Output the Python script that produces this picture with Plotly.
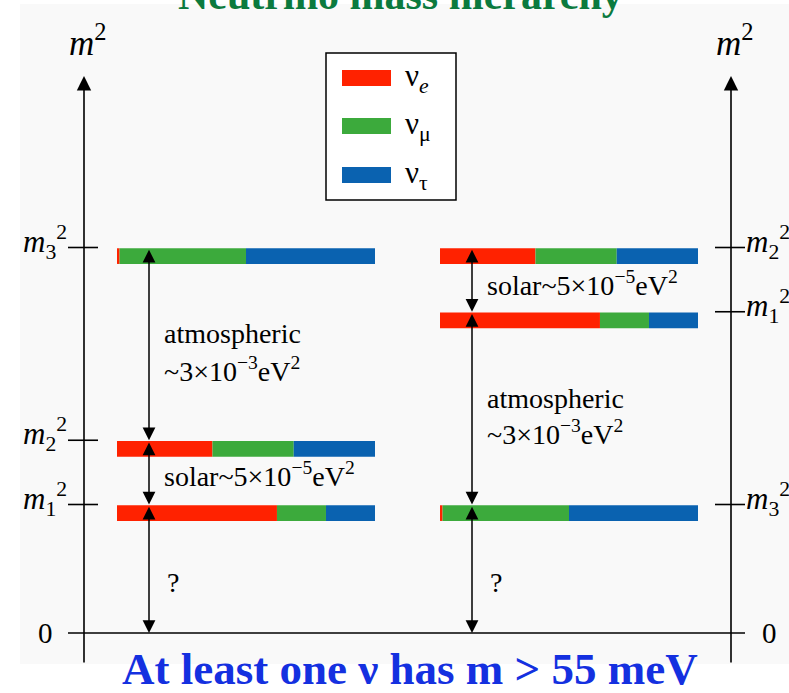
import plotly.graph_objects as go

# ---------------- data ----------------
mass_states = ["1", "2", "3"]
normal_m2 = [1.0, 1.5, 3.0]      # schematic m^2 levels, normal ordering
inverted_m2 = [2.5, 3.0, 1.0]    # schematic m^2 levels, inverted ordering
frac_e = [0.62, 0.37, 0.01]      # nu_e content of nu_1, nu_2, nu_3
frac_mu = [0.19, 0.315, 0.49]    # nu_mu content
frac_tau = [0.19, 0.315, 0.50]   # nu_tau content
flavor_labels = ["ν<sub><i>e</i></sub>", "ν<sub>μ</sub>", "ν<sub>τ</sub>"]
flavor_colors = ["#ff2200", "#3caa3c", "#0a62b0"]

# ---------------- layout helpers ----------------
W, H = 789, 693
PX_PER_UNIT = 128.5
Y0_PX = 633.0


def lv(ypx):
    return (Y0_PX - ypx) / PX_PER_UNIT


SERIF = "Liberation Serif, Times New Roman, serif"
BAR_W = 258
BAR_H = 0.122
BAR_OFF = -0.128

fig = go.Figure()

fracs = [frac_e, frac_mu, frac_tau]
for x0, levels in [(117, normal_m2), (440, inverted_m2)]:
    cum = [0.0] * len(levels)
    for k in range(3):
        widths = [f * BAR_W for f in fracs[k]]
        bases = [x0 + c for c in cum]
        fig.add_trace(go.Bar(
            orientation="h", y=levels, x=widths, base=bases,
            width=BAR_H, offset=BAR_OFF,
            marker=dict(color=flavor_colors[k], line=dict(width=0)),
            showlegend=False, hoverinfo="skip"))
        cum = [c + w for c, w in zip(cum, widths)]

shapes = []
annotations = []

# light grey slide background
shapes.append(dict(type="rect", xref="x", yref="y", x0=20, x1=W, y0=lv(664), y1=lv(4),
                   fillcolor="#f9f9f9", line=dict(width=0), layer="below"))

LINE = dict(color="black", width=1.6)

# baseline
shapes.append(dict(type="line", xref="x", yref="y", x0=68, x1=745, y0=0, y1=0, line=LINE))

# vertical axes with arrow
for xa in (84, 731):
    annotations.append(dict(x=xa, y=lv(76), ax=xa, ay=lv(664), xref="x", yref="y",
                            axref="x", ayref="y", text="", showarrow=True,
                            arrowhead=2, arrowsize=1.8, arrowwidth=1.6,
                            arrowcolor="black", standoff=0))
    annotations.append(dict(x=xa + 4, y=lv(40), xref="x", yref="y", text="<i>m</i><sup>2</sup>",
                            showarrow=False, font=dict(family=SERIF, size=35, color="black")))

# ticks and labels
for i, s in enumerate(mass_states):
    lab = "<i>m</i><sub>%s</sub><sup>2</sup>" % s
    yl = normal_m2[i]
    shapes.append(dict(type="line", xref="x", yref="y", x0=68, x1=98, y0=yl, y1=yl, line=LINE))
    annotations.append(dict(x=69, y=yl, xref="x", yref="y", text=lab, showarrow=False,
                            xanchor="right", yanchor="middle", yshift=6,
                            font=dict(family=SERIF, size=31, color="black")))
    yr = inverted_m2[i]
    shapes.append(dict(type="line", xref="x", yref="y", x0=715, x1=745, y0=yr, y1=yr, line=LINE))
    annotations.append(dict(x=744, y=yr, xref="x", yref="y", text=lab, showarrow=False,
                            xanchor="left", yanchor="middle", yshift=6,
                            font=dict(family=SERIF, size=31, color="black")))

for xz in (45, 769):
    annotations.append(dict(x=xz, y=0, xref="x", yref="y", text="0", showarrow=False,
                            font=dict(family=SERIF, size=29, color="black")))


# double arrows between levels
def darrow(x, y_top, y_bot):
    annotations.append(dict(x=x, y=y_bot, ax=x, ay=y_top, xref="x", yref="y",
                            axref="x", ayref="y", text="", showarrow=True,
                            arrowhead=2, startarrowhead=2, arrowside="end+start",
                            arrowsize=1.7, startarrowsize=1.7, arrowwidth=1.5,
                            arrowcolor="black", standoff=0, startstandoff=0))


for xa, levels in [(149, normal_m2), (472, inverted_m2)]:
    ordered = sorted(levels, reverse=True) + [0.0]
    for a, b in zip(ordered[:-1], ordered[1:]):
        darrow(xa, a + BAR_OFF + BAR_H, b)

TXT = dict(family=SERIF, size=28, color="black")


def label(x, ypx, text):
    annotations.append(dict(x=x, y=lv(ypx), xref="x", yref="y", text=text, showarrow=False,
                            xanchor="left", yanchor="middle", font=TXT))


atm2 = "~3×10<sup>−3</sup>eV<sup>2</sup>"
sol = "solar~5×10<sup>−5</sup>eV<sup>2</sup>"
label(162, 333, "atmospheric")
label(162, 369, atm2)
label(162, 474, sol)
label(485, 283, sol)
label(485, 398, "atmospheric")
label(485, 432, atm2)
label(165, 582, "?")
label(488, 582, "?")

# legend box
shapes.append(dict(type="rect", xref="x", yref="y", x0=326, x1=456, y0=lv(200), y1=lv(53),
                   line=dict(color="black", width=1.5), fillcolor="white"))
for k, ypx in enumerate([78, 126, 175]):
    shapes.append(dict(type="rect", xref="x", yref="y", x0=342, x1=391,
                       y0=lv(ypx + 8), y1=lv(ypx - 8),
                       fillcolor=flavor_colors[k], line=dict(width=0)))
    annotations.append(dict(x=403, y=lv(ypx), xref="x", yref="y", text=flavor_labels[k],
                            showarrow=False, xanchor="left", yanchor="middle",
                            font=dict(family=SERIF, size=31, color="black")))

# title (cut off at top) and bottom statement
annotations.append(dict(x=400, y=lv(20), xref="x", yref="y", text="<b>Neutrino mass hierarchy</b>",
                        showarrow=False, xanchor="center", yanchor="bottom",
                        font=dict(family=SERIF, size=42, color="#0b7a3e")))
annotations.append(dict(x=410, y=lv(669), xref="x", yref="y",
                        text="<b>At least one ν has m &gt; 55 meV</b>",
                        showarrow=False, xanchor="center", yanchor="middle",
                        font=dict(family=SERIF, size=45, color="#1430e0")))

fig.update_layout(
    width=W, height=H, margin=dict(l=0, r=0, t=0, b=0),
    paper_bgcolor="white", plot_bgcolor="white",
    barmode="overlay", showlegend=False,
    xaxis=dict(range=[0, W], visible=False, fixedrange=True),
    yaxis=dict(range=[lv(H), lv(0)], visible=False, fixedrange=True),
    shapes=shapes, annotations=annotations,
)

fig.write_html("out.html", config={"displayModeBar": False},
               post_script="document.body.style.margin='0px';document.body.style.overflow='hidden';")
